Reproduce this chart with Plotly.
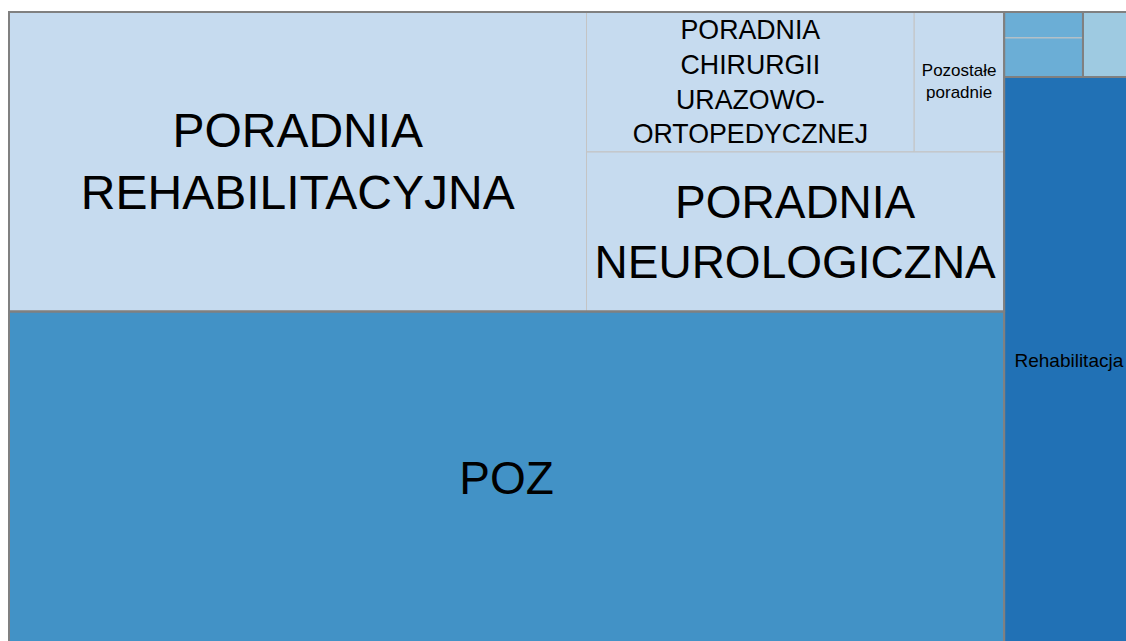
import plotly.graph_objects as go

# leaf categories and their values
poradnie = ["PORADNIA REHABILITACYJNA", "PORADNIA CHIRURGII URAZOWO-ORTOPEDYCZNEJ",
            "Pozostałe poradnie", "PORADNIA NEUROLOGICZNA"]
poradnie_values = [17340, 4592, 1260, 6688]
poz_value = 33266
diagnostyka = ["Badania laboratoryjne", "Badania obrazowe"]
diagnostyka_values = [205, 308]
stomatologia_value = 332
rehabilitacja_value = 7397

# colours per top-level group (Blues)
c_poradnie = "#c6dbef"
c_poz = "#4292c6"
c_diag = "#6baed6"
c_stom = "#9ecae1"
c_rehab = "#2171b5"
font = "Liberation Sans, Arial, sans-serif"

# full tree, helper nodes ("left", "right", ...) only steer the slice-dice tiling
nodes = [
    # id, parent, label, value, colour, text, size
    ("root", "", "Wszystko", 0, "rgba(0,0,0,0)", "", 12),
    ("left", "root", "", 0, "rgba(0,0,0,0)", "", 12),
    ("right", "root", "", 0, "rgba(0,0,0,0)", "", 12),
    ("poradnie", "left", "Poradnie", 0, c_poradnie, "", 12),
    ("p_rehab", "poradnie", poradnie[0], poradnie_values[0], c_poradnie,
     "PORADNIA<br>REHABILITACYJNA", 48),
    ("p_col", "poradnie", "", 0, c_poradnie, "", 12),
    ("p_row", "p_col", "", 0, c_poradnie, "", 12),
    ("p_chir", "p_row", poradnie[1], poradnie_values[1], c_poradnie,
     "PORADNIA<br>CHIRURGII<br>URAZOWO-<br>ORTOPEDYCZNEJ", 30),
    ("p_pozost", "p_row", poradnie[2], poradnie_values[2], c_poradnie,
     "Pozostałe<br>poradnie", 17),
    ("p_neuro", "p_col", poradnie[3], poradnie_values[3], c_poradnie,
     "PORADNIA<br>NEUROLOGICZNA", 46),
    ("poz", "left", "POZ", poz_value, c_poz, "POZ", 46),
    ("small_row", "right", "", 0, "rgba(0,0,0,0)", "", 12),
    ("diag", "small_row", "Diagnostyka", 0, c_diag, "", 12),
    ("diag_lab", "diag", diagnostyka[0], diagnostyka_values[0], c_diag, "", 12),
    ("diag_obr", "diag", diagnostyka[1], diagnostyka_values[1], c_diag, "", 12),
    ("stom", "small_row", "Stomatologia", stomatologia_value, c_stom, "", 12),
    ("rehab", "right", "Rehabilitacja", rehabilitacja_value, c_rehab, "Rehabilitacja", 19),
]

ids = [n[0] for n in nodes]
common = dict(
    branchvalues="remainder",
    sort=False,
    tiling=dict(packing="slice-dice", pad=0),
    pathbar=dict(visible=False),
    root=dict(color="rgba(0,0,0,0)"),
)

fig = go.Figure()
fig.add_trace(go.Treemap(
    ids=ids,
    parents=[n[1] for n in nodes],
    labels=[n[2] or n[0] for n in nodes],
    values=[n[3] for n in nodes],
    text=[n[5] for n in nodes],
    texttemplate="%{text}",
    textposition="middle center",
    textfont=dict(family=font, color="black", size=[n[6] for n in nodes]),
    marker=dict(colors=[n[4] for n in nodes], depthfade=False,
                pad=dict(t=0, l=0, r=0, b=0),
                line=dict(color="#c4c4c4", width=1)),
    hovertemplate="%{label}: %{value}<extra></extra>",
    **common,
))

# second pass: grey frames around the top-level groups only
top = ["poradnie", "poz", "diag", "stom", "rehab"]
frame_ids = ["root", "left", "right", "poradnie", "poz", "small_row", "diag", "stom", "rehab"]
frame_parent = {i: n[1] for i, n in zip(ids, nodes)}
leaf_sum = {}
for n in nodes:
    p = n[0]
    while p:
        leaf_sum[p] = leaf_sum.get(p, 0) + n[3]
        p = frame_parent[p]
fig.add_trace(go.Treemap(
    ids=frame_ids,
    parents=[frame_parent[i] for i in frame_ids],
    labels=frame_ids,
    values=[leaf_sum[i] if i in top else 0 for i in frame_ids],
    textinfo="none",
    marker=dict(colors=["rgba(0,0,0,0)"] * len(frame_ids), depthfade=False,
                pad=dict(t=0, l=0, r=0, b=0),
                line=dict(color=["#808080" if i in top else "rgba(0,0,0,0)" for i in frame_ids],
                          width=[2 if i in top else 0 for i in frame_ids])),
    hoverinfo="skip",
    **common,
))

fig.update_layout(
    width=1134, height=645,
    margin=dict(l=9, r=0, t=12, b=0),
    paper_bgcolor="white",
    font=dict(family=font),
    showlegend=False,
)

# chart is larger than the window, just clip it (no page margin, no scrollbars)
fig.write_html("out.html", config={"displayModeBar": False},
               post_script="document.documentElement.style.overflow='hidden';"
                           "document.body.style.overflow='hidden';"
                           "document.body.style.margin='0';")
